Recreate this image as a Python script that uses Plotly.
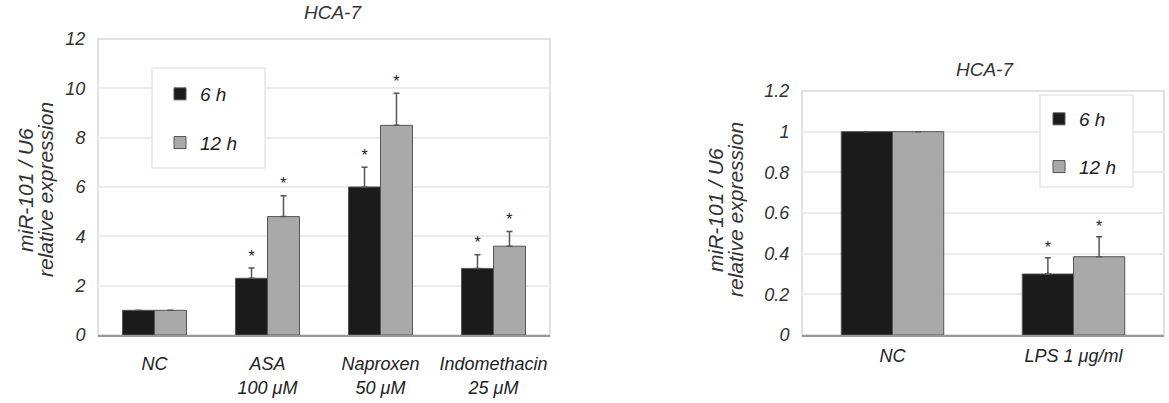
import plotly.graph_objects as go

W, H = 1169, 403

# ---- data ----
left_categories = ["NC", "ASA<br>100 μM", "Naproxen<br>50 μM", "Indomethacin<br>25 μM"]
left_6h = [1.0, 2.3, 6.0, 2.7]
left_12h = [1.0, 4.8, 8.5, 3.6]
left_6h_err = [0, 0.42, 0.8, 0.55]
left_12h_err = [0, 0.85, 1.3, 0.6]
left_6h_sig = ["", "*", "*", "*"]
left_12h_sig = ["", "*", "*", "*"]

right_categories = ["NC", "LPS 1 μg/ml"]
right_6h = [1.0, 0.30]
right_12h = [1.0, 0.385]
right_6h_err = [0, 0.08]
right_12h_err = [0, 0.098]
right_6h_sig = ["", "*"]
right_12h_sig = ["", "*"]

left_yticks = [0, 2, 4, 6, 8, 10, 12]
right_yticks = [0, 0.2, 0.4, 0.6, 0.8, 1, 1.2]

series_names = ["6 h", "12 h"]
colors = ["#1b1b1b", "#a9a9a9"]

FONT = "Liberation Sans, Arial, sans-serif"
BW = 0.283

def px_x(p):
    return p / W

def px_y(p):
    return (H - p) / H

fig = go.Figure()

def add_panel(cats, v6, v12, e6, e12, s6, s12, xa, ya, legend, scale):
    idx = list(range(len(cats)))
    for vals, errs, sig, name, col, off in [
        (v6, e6, s6, series_names[0], colors[0], -BW),
        (v12, e12, s12, series_names[1], colors[1], 0.0),
    ]:
        fig.add_trace(go.Bar(
            x=idx, y=vals, width=BW, offset=off, name=name,
            marker=dict(color=col, line=dict(color="#555555", width=1)),
            error_y=dict(type="data", array=errs, arrayminus=[0] * len(errs),
                         symmetric=False, color="#555555", thickness=1.5, width=3),
            xaxis=xa, yaxis=ya, legend=legend, showlegend=True,
            legendgroup=name + xa,
        ))
        fig.add_trace(go.Scatter(
            x=[i + off + BW / 2 for i in idx],
            y=[v + e + 0.035 * scale for v, e in zip(vals, errs)],
            text=sig, mode="text", textposition="middle center",
            textfont=dict(size=16, color="#222222", family=FONT),
            xaxis=xa, yaxis=ya, showlegend=False, hoverinfo="skip",
        ))

add_panel(left_categories, left_6h, left_12h, left_6h_err, left_12h_err,
          left_6h_sig, left_12h_sig, "x", "y", "legend", 12)
add_panel(right_categories, right_6h, right_12h, right_6h_err, right_12h_err,
          right_6h_sig, right_12h_sig, "x2", "y2", "legend2", 1.2)

L = dict(x0=98, x1=550, y0=335, y1=39)
R = dict(x0=802, x1=1164, y0=335, y1=91)
LEG_L = dict(x0=152, x1=265, y0=168, y1=68)
LEG_R = dict(x0=1040, x1=1133, y0=187, y1=95)

tickfont = dict(family=FONT, size=18, color="#333333", style="italic")
catfont = dict(family=FONT, size=18, color="#222222", style="italic")
legfont = dict(family=FONT, size=19, color="#222222", style="italic")

common_x = dict(ticks="outside", tickcolor="rgba(0,0,0,0)", tickfont=catfont,
                showline=True, linecolor="#999999", linewidth=1.5,
                showgrid=False, zeroline=False, automargin=False)
common_y = dict(ticks="outside", tickcolor="rgba(0,0,0,0)", tickfont=tickfont,
                ticklen=8, showgrid=True, gridcolor="#ebebeb", gridwidth=1.5,
                zeroline=False, showline=False, automargin=False)

fig.update_layout(
    width=W, height=H, margin=dict(l=0, r=0, t=0, b=0, autoexpand=False),
    paper_bgcolor="white", plot_bgcolor="white",
    barmode="overlay",
    xaxis=dict(domain=[px_x(L["x0"]), px_x(L["x1"])], range=[-0.5, 3.5],
               tickvals=list(range(len(left_categories))),
               ticktext=left_categories, ticklen=12, anchor="y", **common_x),
    yaxis=dict(domain=[px_y(L["y0"]), px_y(L["y1"])], range=[0, 12],
               tickvals=left_yticks, ticktext=[str(t) for t in left_yticks],
               anchor="x", **common_y),
    xaxis2=dict(domain=[px_x(R["x0"]), px_x(R["x1"])], range=[-0.5, 1.5],
                tickvals=list(range(len(right_categories))),
                ticktext=right_categories, ticklen=4, anchor="y2", **common_x),
    yaxis2=dict(domain=[px_y(R["y0"]), px_y(R["y1"])], range=[0, 1.2],
                tickvals=right_yticks, ticktext=[("%g" % t) for t in right_yticks],
                anchor="x2", **common_y),
    legend=dict(x=px_x(160), y=px_y(75), xanchor="left", yanchor="top",
                bgcolor="rgba(0,0,0,0)", borderwidth=0,
                font=legfont, tracegroupgap=21, itemwidth=30),
    legend2=dict(x=px_x(1039), y=px_y(100), xanchor="left", yanchor="top",
                 bgcolor="rgba(0,0,0,0)", borderwidth=0,
                 font=legfont, tracegroupgap=20, itemwidth=30),
    showlegend=True,
)

# frames (light grey box around plot areas)
for box in (L, R):
    fig.add_shape(type="rect", xref="paper", yref="paper",
                  x0=px_x(box["x0"]), x1=px_x(box["x1"]),
                  y0=px_y(box["y0"]), y1=px_y(box["y1"]),
                  line=dict(color="#d8d8d8", width=1.5), layer="below")
# legend boxes
for box in (LEG_L, LEG_R):
    fig.add_shape(type="rect", xref="paper", yref="paper",
                  x0=px_x(box["x0"]), x1=px_x(box["x1"]),
                  y0=px_y(box["y0"]), y1=px_y(box["y1"]),
                  fillcolor="white", line=dict(color="#e6e6e6", width=1.5),
                  layer="above")

# titles and axis titles
titlefont = dict(family=FONT, size=19, color="#333333", style="italic")
fig.add_annotation(text="HCA-7", x=px_x(333), y=px_y(13), xref="paper", yref="paper",
                   xanchor="center", yanchor="middle", showarrow=False, font=titlefont)
fig.add_annotation(text="HCA-7", x=px_x(985), y=px_y(70), xref="paper", yref="paper",
                   xanchor="center", yanchor="middle", showarrow=False, font=titlefont)
ytitle_lines = ["miR-101 / U6", "relative expression"]
yfont = dict(family=FONT, size=21, color="#333333", style="italic")
for (xl1, xl2, yc) in [(25, 45, 190), (715, 735, 210)]:
    for txt, xc in zip(ytitle_lines, (xl1, xl2)):
        fig.add_annotation(text=txt, x=px_x(xc), y=px_y(yc), xref="paper", yref="paper",
                           xanchor="center", yanchor="middle", textangle=-90,
                           showarrow=False, font=yfont)

fig.write_html("out.html", config={"displayModeBar": False},
               post_script="document.body.style.margin='0';")
